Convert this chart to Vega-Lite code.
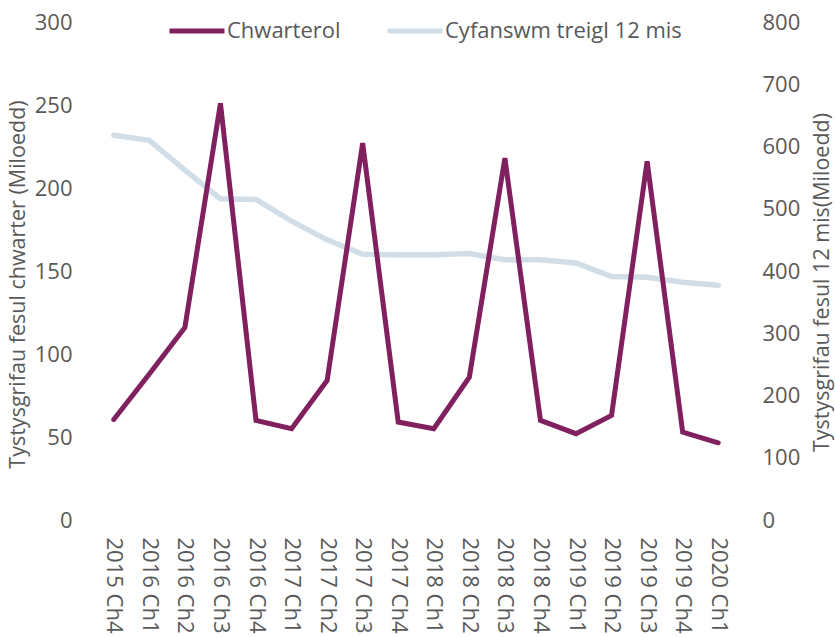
{
  "$schema": "https://vega.github.io/schema/vega-lite/v6.json",
  "width": 640,
  "height": 498,
  "autosize": {"type": "none"},
  "padding": {"left": 96, "top": 22, "right": 99, "bottom": 117},
  "background": "white",
  "config": {
    "view": {"stroke": null},
    "font": "Open Sans",
    "axis": {
      "grid": false,
      "domain": false,
      "ticks": false,
      "labelColor": "#595959",
      "titleColor": "#595959",
      "labelFontSize": 22,
      "titleFontSize": 21.5,
      "titleFontWeight": "normal",
      "labelFont": "Open Sans",
      "titleFont": "Open Sans"
    },
    "legend": {"labelFont": "Open Sans"}
  },
  "data": {
    "values": [
      {"q": "2015 Ch4", "chw": 60.5, "cyf": 618},
      {"q": "2016 Ch1", "chw": 88, "cyf": 610},
      {"q": "2016 Ch2", "chw": 116, "cyf": 562},
      {"q": "2016 Ch3", "chw": 251, "cyf": 516},
      {"q": "2016 Ch4", "chw": 60, "cyf": 515},
      {"q": "2017 Ch1", "chw": 55, "cyf": 480},
      {"q": "2017 Ch2", "chw": 84, "cyf": 450},
      {"q": "2017 Ch3", "chw": 227, "cyf": 427},
      {"q": "2017 Ch4", "chw": 59, "cyf": 426},
      {"q": "2018 Ch1", "chw": 55, "cyf": 426},
      {"q": "2018 Ch2", "chw": 86, "cyf": 428},
      {"q": "2018 Ch3", "chw": 218, "cyf": 418},
      {"q": "2018 Ch4", "chw": 60, "cyf": 418},
      {"q": "2019 Ch1", "chw": 52, "cyf": 413},
      {"q": "2019 Ch2", "chw": 63, "cyf": 391},
      {"q": "2019 Ch3", "chw": 216, "cyf": 390},
      {"q": "2019 Ch4", "chw": 53, "cyf": 382},
      {"q": "2020 Ch1", "chw": 46.5, "cyf": 377}
    ]
  },
  "layer": [
    {
      "mark": {"type": "line", "strokeWidth": 5.5, "strokeCap": "round"},
      "encoding": {
        "x": {
          "field": "q",
          "type": "nominal",
          "sort": null,
          "axis": {"title": null, "labelAngle": 90, "labelAlign": "left", "labelBaseline": "middle", "labelPadding": 17}
        },
        "y": {
          "field": "cyf",
          "type": "quantitative",
          "scale": {"domain": [0, 800]},
          "axis": {
            "orient": "right",
            "values": [0, 100, 200, 300, 400, 500, 600, 700, 800],
            "title": "Tystysgrifau fesul 12 mis(Miloedd)",
            "labelPadding": 26,
            "titleAngle": -90,
            "titleX": 86,
            "titleY": 260,
            "titleAlign": "center",
            "titleBaseline": "middle"
          }
        },
        "color": {
          "datum": "Cyfanswm treigl 12 mis",
          "type": "nominal",
          "scale": {"domain": ["Chwarterol", "Cyfanswm treigl 12 mis"], "range": ["#80205F", "#D1DEE7"]},
          "legend": {
            "orient": "none",
            "legendX": 71,
            "legendY": -21,
            "direction": "horizontal",
            "title": null,
            "symbolType": "stroke",
            "symbolSize": 3025,
            "symbolStrokeWidth": 5,
            "labelFontSize": 22,
            "labelLimit": 400,
            "labelColor": "#595959",
            "columnPadding": 36,
            "labelOffset": 0
          }
        }
      }
    },
    {
      "mark": {"type": "line", "strokeWidth": 5, "strokeCap": "round"},
      "encoding": {
        "x": {"field": "q", "type": "nominal", "sort": null},
        "y": {
          "field": "chw",
          "type": "quantitative",
          "scale": {"domain": [0, 300]},
          "axis": {
            "orient": "left",
            "values": [0, 50, 100, 150, 200, 250, 300],
            "title": "Tystysgrifau fesul chwarter (Miloedd)",
            "labelPadding": 24,
            "titleAngle": -90,
            "titleX": -78,
            "titleY": 262,
            "titleAlign": "center",
            "titleBaseline": "middle"
          }
        },
        "color": {"datum": "Chwarterol", "type": "nominal"}
      }
    }
  ],
  "resolve": {"scale": {"y": "independent"}}
}
